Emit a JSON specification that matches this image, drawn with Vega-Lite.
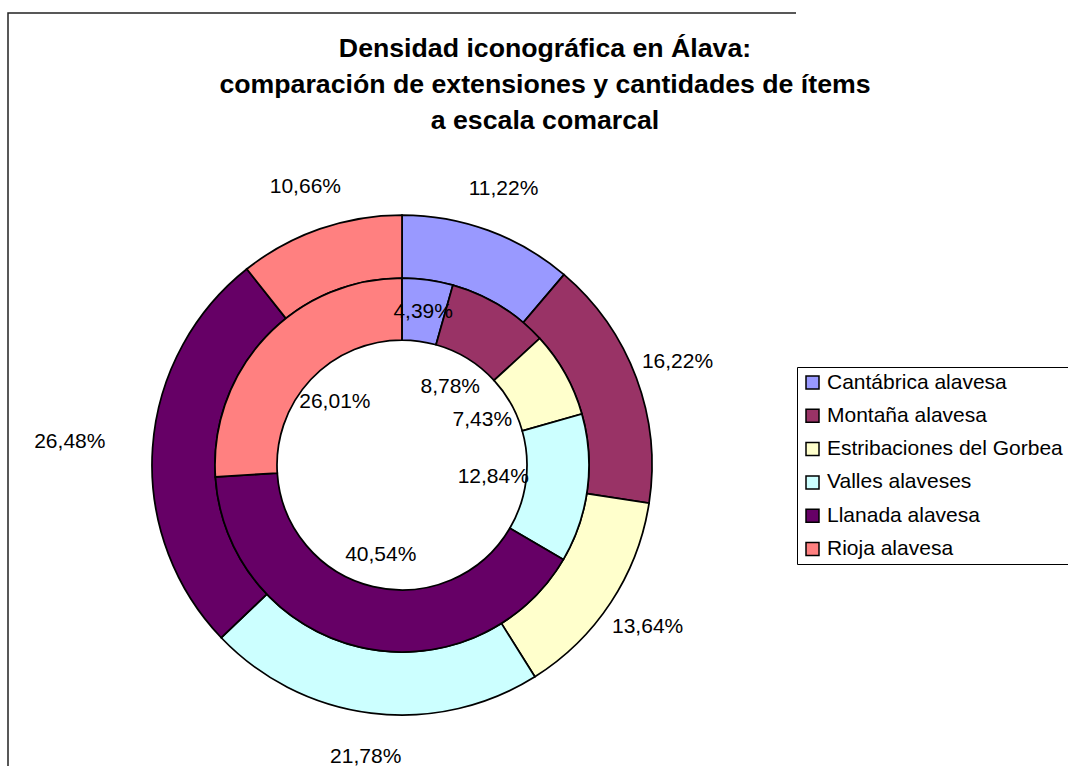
{
  "$schema": "https://vega.github.io/schema/vega-lite/v6.json",
  "autosize": {"type": "none"},
  "width": 788,
  "height": 904,
  "padding": {"left": 8, "top": 13, "right": 272, "bottom": 0},
  "background": "white",
  "view": {"stroke": "#222222", "strokeWidth": 1.5, "strokeDash": [788, 1692, 904, 100]},
  "title": {
    "text": ["Densidad iconográfica en Álava:", "comparación de extensiones y  cantidades de ítems", "a escala comarcal"],
    "anchor": "middle",
    "dx": 143,
    "dy": 122,
    "offset": 0,
    "limit": 2000,
    "fontSize": 26.7,
    "fontWeight": "bold",
    "font": "Liberation Sans",
    "lineHeight": 36,
    "color": "black"
  },
  "data": {
    "values": [
      {"region": "Cantábrica alavesa", "idx": 1, "ring": "outer", "pct": 0.1122},
      {"region": "Montaña alavesa", "idx": 2, "ring": "outer", "pct": 0.1622},
      {"region": "Estribaciones del Gorbea", "idx": 3, "ring": "outer", "pct": 0.1364},
      {"region": "Valles alaveses", "idx": 4, "ring": "outer", "pct": 0.2178},
      {"region": "Llanada alavesa", "idx": 5, "ring": "outer", "pct": 0.2648},
      {"region": "Rioja alavesa", "idx": 6, "ring": "outer", "pct": 0.1066},
      {"region": "Cantábrica alavesa", "idx": 1, "ring": "inner", "pct": 0.0439},
      {"region": "Montaña alavesa", "idx": 2, "ring": "inner", "pct": 0.0878},
      {"region": "Estribaciones del Gorbea", "idx": 3, "ring": "inner", "pct": 0.0743},
      {"region": "Valles alaveses", "idx": 4, "ring": "inner", "pct": 0.1284},
      {"region": "Llanada alavesa", "idx": 5, "ring": "inner", "pct": 0.4054},
      {"region": "Rioja alavesa", "idx": 6, "ring": "inner", "pct": 0.2601}
    ]
  },
  "layer": [
    {
      "transform": [{"filter": "datum.ring == 'outer'"}],
      "mark": {"type": "arc", "radius": 250, "radius2": 187, "stroke": "black", "strokeWidth": 1.75},
      "encoding": {
        "theta": {"field": "pct", "type": "quantitative", "stack": true},
        "order": {"field": "idx", "type": "quantitative"},
        "color": {
          "field": "region",
          "type": "nominal",
          "scale": {
            "domain": ["Cantábrica alavesa", "Montaña alavesa", "Estribaciones del Gorbea", "Valles alaveses", "Llanada alavesa", "Rioja alavesa"],
            "range": ["#9999FF", "#993366", "#FFFFCC", "#CCFFFF", "#660066", "#FF8080"]
          },
          "legend": {
            "orient": "none",
            "legendX": 789,
            "legendY": 354,
            "title": null,
            "strokeColor": "black",
            "fillColor": "white",
            "padding": 5,
            "labelFont": "Liberation Sans",
            "labelFontSize": 21,
            "labelColor": "black",
            "labelLimit": 400,
            "labelOffset": 4,
            "symbolType": "square",
            "symbolSize": 169,
            "symbolStrokeColor": "black",
            "symbolStrokeWidth": 1.5,
            "symbolOpacity": 1,
            "rowPadding": 11.3
          }
        }
      }
    },
    {
      "transform": [{"filter": "datum.ring == 'inner'"}],
      "mark": {"type": "arc", "radius": 187, "radius2": 125, "stroke": "black", "strokeWidth": 1.75},
      "encoding": {
        "theta": {"field": "pct", "type": "quantitative", "stack": true},
        "order": {"field": "idx", "type": "quantitative"},
        "color": {"field": "region", "type": "nominal"}
      }
    },
    {
      "transform": [{"filter": "datum.ring == 'outer'"}],
      "mark": {"type": "text", "font": "Liberation Sans", "fontSize": 21, "color": "black", "align": "center", "baseline": "middle",
               "radius": {"expr": "datum.region == 'Llanada alavesa' ? 333 : 294"}},
      "encoding": {
        "theta": {"field": "pct", "type": "quantitative", "stack": true},
        "order": {"field": "idx", "type": "quantitative"},
        "detail": {"field": "region", "type": "nominal"},
        "text": {"field": "pct", "type": "quantitative", "format": ".2%"}
      }
    },
    {
      "transform": [{"filter": "datum.ring == 'inner'"}],
      "mark": {"type": "text", "font": "Liberation Sans", "fontSize": 21, "color": "black", "align": "center", "baseline": "middle",
               "radius": {"expr": "datum.region == 'Cantábrica alavesa' ? 154 : 92"}},
      "encoding": {
        "theta": {"field": "pct", "type": "quantitative", "stack": true},
        "order": {"field": "idx", "type": "quantitative"},
        "detail": {"field": "region", "type": "nominal"},
        "text": {"field": "pct", "type": "quantitative", "format": ".2%"}
      }
    }
  ],
  "config": {
    "view": {"stroke": "#222222", "strokeWidth": 1.5, "strokeDash": [788, 1692, 904, 100]},
    "locale": {
      "number": {"decimal": ",", "thousands": ".", "grouping": [3], "currency": ["", " €"]}
    }
  }
}
